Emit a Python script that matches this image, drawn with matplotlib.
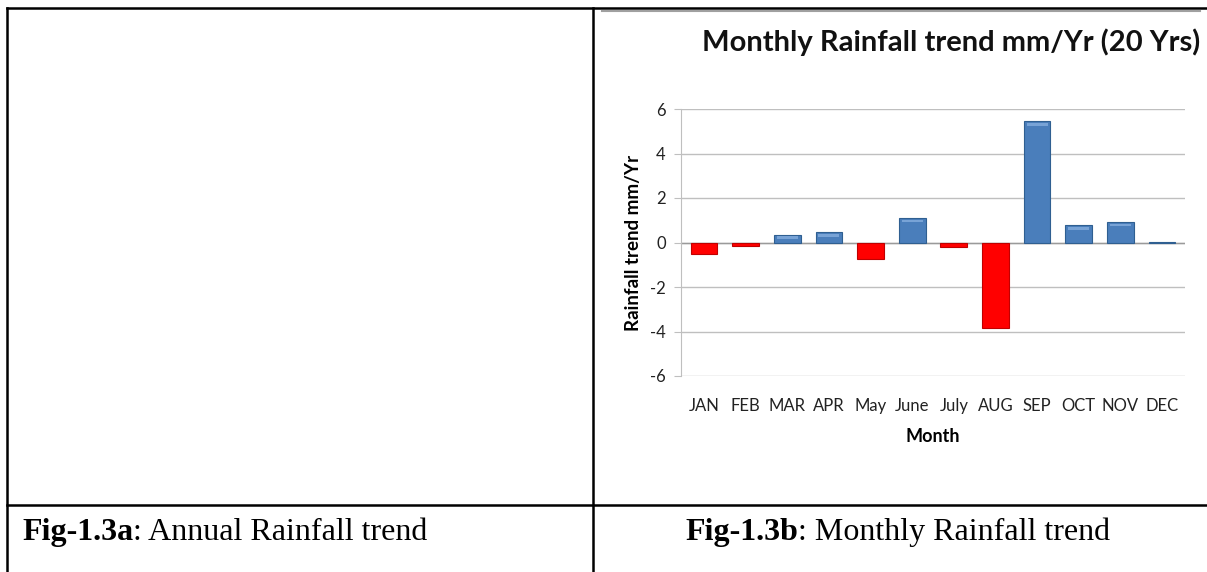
import matplotlib
matplotlib.use("Agg")
import matplotlib.pyplot as plt
from matplotlib.lines import Line2D
import numpy as np

# Monthly rainfall trend values (mm/Yr)
months = ["JAN", "FEB", "MAR", "APR", "May", "June", "July", "AUG", "SEP", "OCT", "NOV", "DEC"]
trend = [-0.5, -0.15, 0.35, 0.45, -0.75, 1.1, -0.2, -3.85, 5.45, 0.78, 0.92, 0.02]
yticks = [-6, -4, -2, 0, 2, 4, 6]

title = "Monthly Rainfall trend mm/Yr (20 Yrs)"
caption_a = ("Fig-1.3a", ": Annual Rainfall trend")
caption_b = ("Fig-1.3b", ": Monthly Rainfall trend")

W, H = 1207, 572
fig = plt.figure(figsize=(W / 100, H / 100), dpi=100)
fig.patch.set_facecolor("white")


def fx(px):
    return px / W


def fy(py):
    return 1 - py / H


# table borders of the page layout
for x0, y0, x1, y1 in [(7, 8, 1207, 8), (7, 8, 7, 572), (593, 8, 593, 572), (7, 505, 1207, 505)]:
    fig.add_artist(Line2D([fx(x0), fx(x1)], [fy(y0), fy(y1)], color="black", lw=1.8))
fig.add_artist(Line2D([fx(602), fx(1200)], [fy(11), fy(11)], color="#a0a0a0", lw=1.5))

# chart
ax = fig.add_axes([fx(681), fy(376), fx(1185) - fx(681), fy(109) - fy(376)])
x = np.arange(len(months))
colors = ["#ff0000" if v < 0 else "#4a7ebb" for v in trend]
edges = ["#c00000" if v < 0 else "#2f5f91" for v in trend]
ax.bar(x, trend, width=0.64, color=colors, edgecolor=edges, linewidth=0.8, zorder=3)
# lighter bevel on top of the blue bars
for xi, v in zip(x, trend):
    if v > 0.05:
        ax.bar(xi, 0.12, bottom=v - 0.2, width=0.5, color="#8db3e2", alpha=0.7, linewidth=0, zorder=4)

ax.set_xlim(-0.55, len(months) - 0.45)
ax.set_ylim(-6, 6)
ax.set_yticks(yticks)
ax.set_yticklabels([str(t) for t in yticks])
ax.set_xticks(x)
ax.set_xticklabels(months)
ax.grid(axis="y", color="#bfbfbf", lw=1.0, zorder=0)
ax.axhline(0, color="#9a9a9a", lw=1.0, zorder=2)
for s in ["top", "right", "bottom"]:
    ax.spines[s].set_visible(False)
ax.spines["left"].set_color("#bfbfbf")
ax.tick_params(axis="y", length=5, color="#bfbfbf", labelsize=12, pad=6)
ax.tick_params(axis="x", length=0, labelsize=12, pad=16)
for lab in ax.get_xticklabels() + ax.get_yticklabels():
    lab.set_fontfamily("Lato")
    lab.set_color("#222222")

ax.set_ylabel("Rainfall trend mm/Yr", fontfamily="Lato", fontweight="bold", fontsize=13.5, labelpad=6)
ax.set_xlabel("Month", fontfamily="Lato", fontweight="bold", fontsize=13, labelpad=10)

fig.text(fx(1200), fy(42), title, ha="right", va="center", fontfamily="Lato",
         fontweight="bold", fontsize=21, color="#111111")

# captions
for (bold, rest), x0 in [(caption_a, 22), (caption_b, 685)]:
    t = fig.text(fx(x0), fy(540), bold, ha="left", va="baseline", fontfamily="Liberation Serif",
                 fontweight="bold", fontsize=23)
    fig.canvas.draw()
    bb = t.get_window_extent()
    fig.text(bb.x1 / W, fy(540), rest, ha="left", va="baseline", fontfamily="Liberation Serif",
             fontsize=23)

fig.savefig("out.png", dpi=100)
